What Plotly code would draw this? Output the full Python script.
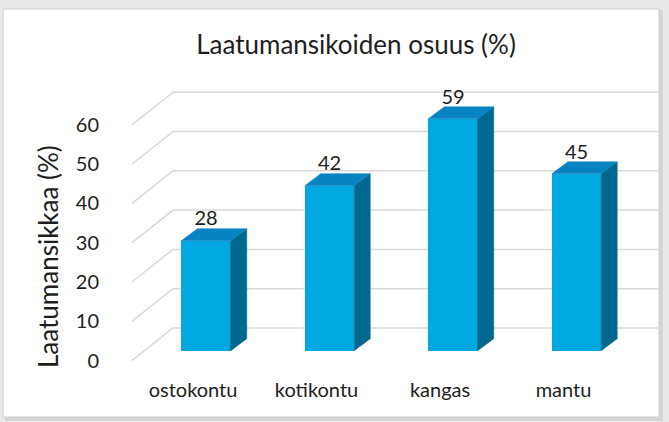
import plotly.graph_objects as go

# ---- data ----
categories = ["ostokontu", "kotikontu", "kangas", "mantu"]
values = [28, 42, 59, 45]
y_ticks = [0, 10, 20, 30, 40, 50, 60]
title_text = "Laatumansikoiden osuus (%)"
y_title = "Laatumansikkaa (%)"

# ---- style / geometry constants ----
FONT = "Lato"
TXT = "#1e1e1e"
FRONT = "#00A9E1"
TOP = "#0783C1"
SIDE = "#03688F"
GRID = "#d9d9d9"
HALF_W = 0.2          # half width of bar front face (category units)
DX, DY = 0.13, 3.05   # bar depth offset (x units, value units)
LABEL_DY = 2.6        # data label anchor offset (value units)
WALL_DY = 5.78        # back wall offset (value units)
FLOOR_DY = -2.52      # front plane offset (value units)
X_FRONT, X_BACK = -0.60, -0.267
X_MIN, X_MAX = -0.656, 3.66
Y_MIN, Y_MAX = -5.42, 70.15
LABEL_SHIFT = -0.105

L, R, T, B = 125, 11, 75, 50
W, H = 669, 422
PW, PH = W - L - R, H - T - B

fig = go.Figure()

xs = list(range(len(categories)))

# bar sides and tops
for i, v in zip(xs, values):
    sx = [i + HALF_W, i + HALF_W + DX, i + HALF_W + DX, i + HALF_W, i + HALF_W]
    sy = [0, DY, v + DY, v, 0]
    fig.add_trace(go.Scatter(x=sx, y=sy, fill="toself", fillcolor=SIDE,
                             mode="lines", line=dict(color=SIDE, width=0.5),
                             hoverinfo="skip", showlegend=False))
    tx = [i - HALF_W, i + HALF_W, i + HALF_W + DX, i - HALF_W + DX, i - HALF_W]
    ty = [v, v, v + DY, v + DY, v]
    fig.add_trace(go.Scatter(x=tx, y=ty, fill="toself", fillcolor=TOP,
                             mode="lines", line=dict(color=TOP, width=0.5),
                             hoverinfo="skip", showlegend=False))

# bar fronts
fig.add_trace(go.Bar(x=xs, y=values, width=2 * HALF_W,
                     marker=dict(color=FRONT, line=dict(width=0)),
                     showlegend=False))

# data labels
fig.add_trace(go.Scatter(x=xs, y=[v + LABEL_DY for v in values], mode="text",
                         text=[str(v) for v in values],
                         textposition="top center",
                         textfont=dict(family=FONT, size=20, color=TXT),
                         hoverinfo="skip", showlegend=False))

shapes = [
    dict(type="rect", xref="paper", yref="paper", layer="below",
         x0=(5 - L) / PW, x1=(663 - L) / PW,
         y0=(H - B - 421) / PH, y1=(H - B - 10) / PH,
         fillcolor="#d4d4d4", line=dict(width=0)),
    dict(type="rect", xref="paper", yref="paper", layer="below",
         x0=(3 - L) / PW, x1=(659 - L) / PW,
         y0=(H - B - 417) / PH, y1=(H - B - 9) / PH,
         fillcolor="white", line=dict(color="#cccccc", width=1)),
]
# gridlines (front diagonal + back wall), below the bars
for v in y_ticks:
    shapes.append(dict(type="path", xref="x", yref="y", layer="below",
                       path=f"M{X_FRONT},{v + FLOOR_DY} L{X_BACK},{v + WALL_DY} L{X_MAX},{v + WALL_DY}",
                       line=dict(color=GRID, width=1.5)))

fig.update_layout(
    width=W, height=H,
    margin=dict(l=L, r=R, t=T, b=B),
    paper_bgcolor="#e9e9e9",
    plot_bgcolor="rgba(0,0,0,0)",
    font=dict(family=FONT, color=TXT),
    title=dict(text=title_text, x=356 / W, xanchor="center",
               y=1 - 45 / H, yanchor="middle", yref="container",
               font=dict(family=FONT, size=26, color=TXT)),
    xaxis=dict(range=[X_MIN, X_MAX], showgrid=False, zeroline=False,
               showline=False, tickmode="array",
               tickvals=[i + LABEL_SHIFT for i in xs], ticktext=categories,
               tickfont=dict(family=FONT, size=20, color=TXT),
               ticks="", ticklabelstandoff=4),
    yaxis=dict(range=[Y_MIN, Y_MAX], showgrid=False, zeroline=False,
               showline=False, tickmode="array",
               tickvals=[v + FLOOR_DY for v in y_ticks],
               ticktext=[str(v) for v in y_ticks],
               tickfont=dict(family=FONT, size=20, color=TXT),
               ticks="", ticklabelstandoff=25),
    annotations=[dict(text=y_title, textangle=-90, xref="paper", yref="paper",
                      x=(48 - L) / PW, y=(H - B - 257) / PH,
                      xanchor="center", yanchor="middle", showarrow=False,
                      font=dict(family=FONT, size=26, color=TXT))],
    shapes=shapes,
    bargap=0,
)

fig.write_html("out.html", config={"displayModeBar": False},
               post_script="document.body.style.margin='0px';")
